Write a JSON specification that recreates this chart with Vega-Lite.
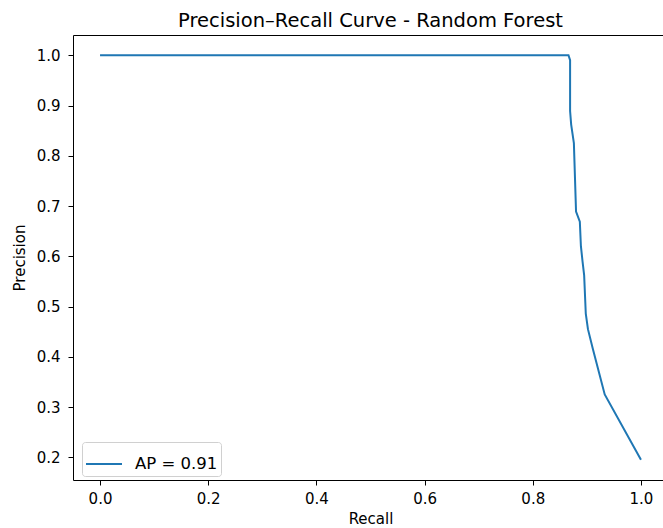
{
  "$schema": "https://vega.github.io/schema/vega-lite/v6.json",
  "autosize": {"type": "none"},
  "padding": {"left": 73, "top": 35, "right": 0, "bottom": 48},
  "width": 595,
  "height": 445,
  "background": "white",
  "title": {"text": "Precision–Recall Curve - Random Forest", "font": "DejaVu Sans", "fontSize": 19.5, "fontWeight": "normal", "color": "#000", "anchor": "middle", "offset": 4},
  "config": {
    "view": {"stroke": "#000", "strokeWidth": 1},
    "axis": {"grid": false, "domain": false, "tickColor": "#000", "tickSize": 5, "labelFont": "DejaVu Sans", "labelFontSize": 15, "labelColor": "#000", "titleFont": "DejaVu Sans", "titleFontSize": 15, "titleFontWeight": "normal", "titleColor": "#000"}
  },
  "data": {"values": [
    {"i": 0, "recall": 0.0, "precision": 1.0},
    {"i": 1, "recall": 0.866, "precision": 1.0},
    {"i": 2, "recall": 0.869, "precision": 0.99},
    {"i": 3, "recall": 0.869, "precision": 0.889},
    {"i": 4, "recall": 0.871, "precision": 0.862},
    {"i": 5, "recall": 0.876, "precision": 0.825},
    {"i": 6, "recall": 0.880, "precision": 0.689},
    {"i": 7, "recall": 0.887, "precision": 0.669},
    {"i": 8, "recall": 0.889, "precision": 0.62},
    {"i": 9, "recall": 0.892, "precision": 0.59},
    {"i": 10, "recall": 0.895, "precision": 0.562},
    {"i": 11, "recall": 0.898, "precision": 0.486},
    {"i": 12, "recall": 0.902, "precision": 0.455},
    {"i": 13, "recall": 0.911, "precision": 0.416},
    {"i": 14, "recall": 0.933, "precision": 0.325},
    {"i": 15, "recall": 1.0, "precision": 0.195}
  ]},
  "mark": {"type": "line", "strokeWidth": 2, "clip": true},
  "encoding": {
    "x": {"field": "recall", "type": "quantitative", "scale": {"domain": [-0.05, 1.05], "nice": false, "zero": false}, "axis": {"values": [0, 0.2, 0.4, 0.6, 0.8, 1.0], "format": ".1f", "title": "Recall", "labelPadding": 6, "titlePadding": 5}},
    "y": {"field": "precision", "type": "quantitative", "scale": {"domain": [0.1548, 1.0403], "nice": false, "zero": false}, "axis": {"values": [0.2, 0.3, 0.4, 0.5, 0.6, 0.7, 0.8, 0.9, 1.0], "format": ".1f", "title": "Precision", "labelPadding": 8, "titlePadding": 9}},
    "order": {"field": "i", "type": "quantitative"},
    "color": {"datum": "AP = 0.91", "type": "nominal", "scale": {"range": ["#1f77b4"]}, "legend": {"title": null, "orient": "none", "legendX": 9, "legendY": 407, "symbolType": "stroke", "symbolStrokeWidth": 2, "symbolSize": 1296, "labelFont": "DejaVu Sans", "labelFontSize": 16.5, "labelColor": "#000", "fillColor": "white", "strokeColor": "#d0d0d0", "cornerRadius": 3, "padding": 3, "labelOffset": 12}}
  }
}
